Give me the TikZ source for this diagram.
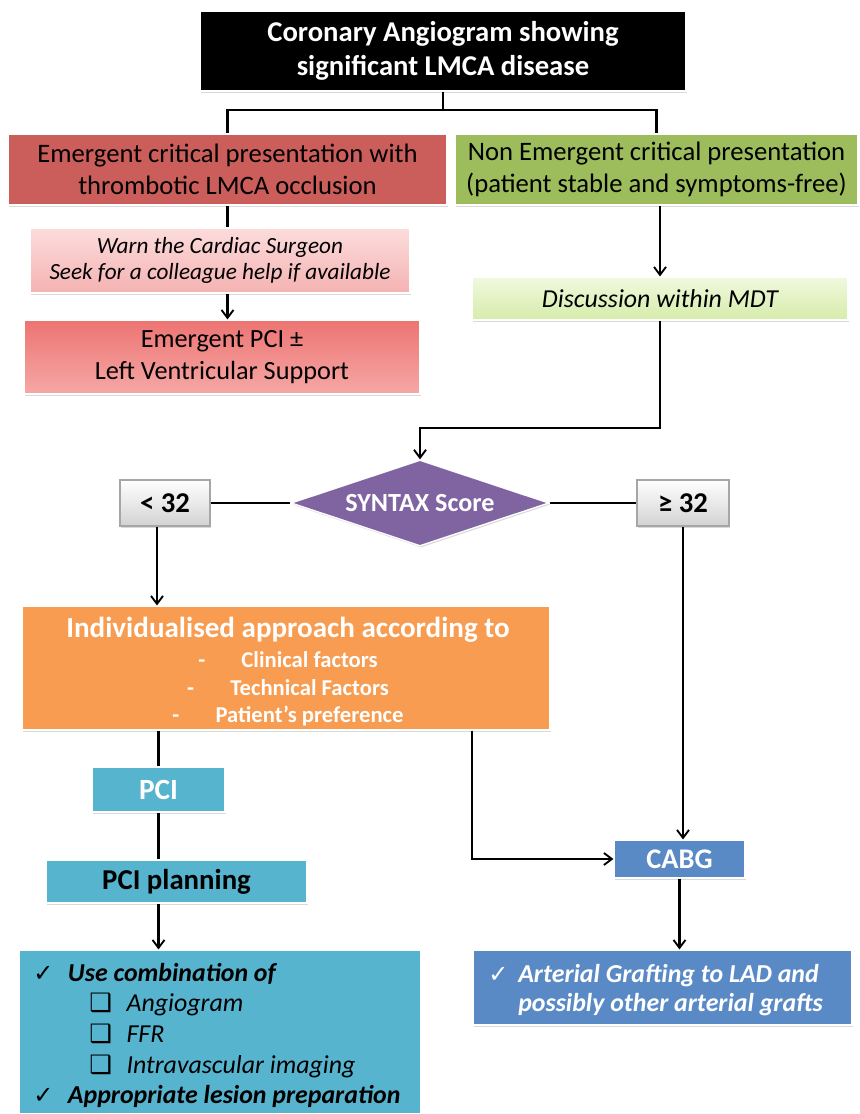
\documentclass[tikz,border=0pt]{standalone}
\usepackage{fontspec}
\setmainfont{Carlito}
\newfontfamily\dv{DejaVu Sans}
\usetikzlibrary{arrows.meta,shapes.geometric,shadows,calc}
\definecolor{cRed}{HTML}{CB5E5A}
\definecolor{cGreen}{HTML}{9DBD5C}
\definecolor{cPurple}{HTML}{8064A2}
\definecolor{cOrange}{HTML}{F79C50}
\definecolor{cCyan}{HTML}{56B4CF}
\definecolor{cBlue}{HTML}{5A8AC6}
\newcommand{\fs}[1]{\fontsize{#1}{1.2\dimexpr #1pt\relax}\selectfont}
\newcommand{\chk}{\makebox[26pt][l]{\dv\upshape\mdseries\fontsize{18}{18}\selectfont ✓}}
\newcommand{\sqb}{\makebox[70pt][l]{\hspace{42pt}\dv\upshape\fontsize{19}{19}\selectfont ❑}}
\tikzset{
  sz/.style 2 args={minimum width=#1*0.75pt, minimum height=#2*0.75pt, inner sep=0pt},
  box/.style={rectangle, draw=white, line width=0.8pt, align=center,
    drop shadow={opacity=0.3, shadow xshift=0.8pt, shadow yshift=-1.2pt}},
  conn/.style={line width=1.7pt, draw=black},
  arr/.style={conn, -{Straight Barb[length=6pt,width=9pt,line width=1.4pt]}},
}
\begin{document}
\begin{tikzpicture}[x=0.75pt,y=-0.75pt]
\useasboundingbox (0,0) rectangle (860,1114);
% nodes
\node[box, fill=black, text=white, sz={486}{80}, font=\fontsize{21.5}{25.5}\selectfont\bfseries] (title) at (443,51)
  {Coronary Angiogram showing\\significant LMCA disease};
\node[box, fill=cRed, sz={439}{71}, font=\fs{20}] (red1) at (227.5,169.5)
  {Emergent critical presentation with\\thrombotic LMCA occlusion};
\node[box, fill=cGreen, sz={403}{71}, font=\fs{20}] (green1) at (656.5,169.5)
  {Non Emergent critical presentation\\(patient stable and symptoms-free)};
\node[box, top color={rgb,255:red,252;green,220;blue,220}, bottom color={rgb,255:red,245;green,178;blue,178}, sz={380}{65}, font=\fontsize{17.4}{20}\selectfont\itshape] (pink) at (220,260.5)
  {Warn the Cardiac Surgeon\\Seek for a colleague help if available};
\node[box, top color={rgb,255:red,236;green,116;blue,114}, bottom color={rgb,255:red,246;green,168;blue,166}, sz={396}{74}, font=\fontsize{19.7}{24}\selectfont] (epci) at (222,357)
  {Emergent PCI ±\\Left Ventricular Support};
\node[box, top color={rgb,255:red,240;green,249;blue,222}, bottom color={rgb,255:red,214;green,236;blue,170}, sz={376}{43}, font=\fs{19.4}\itshape] (mdt) at (660,298.5)
  {Discussion within MDT};
\node[diamond, aspect=3, fill=cPurple, draw=white, line width=1pt, text=white, sz={258}{86}, font=\fs{19.6}\bfseries,
  drop shadow={opacity=0.3, shadow xshift=0.8pt, shadow yshift=-1.2pt}] (dia) at (420,503) {SYNTAX Score};
\node[box, draw=gray!70, top color=white, bottom color=gray!35, sz={90}{46}, font=\fs{21.5}\bfseries] (lt) at (165,503) {< 32};
\node[box, draw=gray!70, top color=white, bottom color=gray!35, sz={92}{46}, font=\fs{21.5}\bfseries] (ge) at (683,503) {≥ 32};
\node[box, fill=cOrange, sz={528}{124}] (orange) at (286,668) {};
\node[align=center, inner sep=0pt, text=white, font=\fontsize{17}{20.6}\selectfont\bfseries] (orangetext) at (288,672)
  {{\fontsize{21.8}{26}\selectfont Individualised approach according to}\\[1.9pt]
   -\hspace{1.6em}Clinical factors\\
   -\hspace{1.6em}Technical Factors\\
   -\hspace{1.6em}Patient’s preference};
\node[box, fill=cCyan, text=white, sz={133}{45}, font=\fs{22}\bfseries] (pci) at (158.5,789.5) {PCI};
\node[box, fill=cCyan, sz={261}{43}, font=\fs{21.6}\bfseries] (pcip) at (176.5,881.5) {PCI planning};
\node[box, fill=cBlue, text=white, sz={131}{38}, font=\fs{21.3}\bfseries] (cabg) at (679.5,859) {CABG};
\node[box, fill=cCyan, sz={402}{164}] (cyan) at (220,1032) {};
\node[anchor=north west, inner sep=0pt, align=left, font=\fontsize{19.4}{22.9}\selectfont\itshape] (cyantext) at (33,963) {%
  \chk{\bfseries Use combination of}\\
  \sqb Angiogram\\
  \sqb FFR\\
  \sqb Intravascular imaging\\
  \chk{\bfseries Appropriate lesion preparation}};
\node[box, fill=cBlue, sz={379}{75}] (blue) at (662.5,987.5) {};
\node[anchor=north west, inner sep=0pt, align=left, text=white, font=\fontsize{19.4}{22}\selectfont\bfseries\itshape] (bluetext) at (488,964) {%
  \makebox[22.5pt][l]{\dv\upshape\mdseries\fontsize{18}{18}\selectfont ✓}Arterial Grafting to LAD and\\
  \hspace{22.5pt}possibly other arterial grafts};
% coordinates
\coordinate (j1) at (443,110);
\coordinate (t1) at (420,428);
\coordinate (x472) at (472,0);
\coordinate (x157) at (157,0);
% connectors
\draw[conn] (title.south) -- (j1);
\draw[conn] (red1.north) |- (j1) -| (green1.north);
\draw[conn] (red1.south) -- (red1.south |- pink.north);
\draw[arr] (red1.south |- pink.south) -- (red1.south |- epci.north);
\draw[arr] (mdt.north |- green1.south) -- (mdt.north);
\draw[arr] (mdt.south) |- (t1) -- (dia.north);
\draw[conn] (lt.east) -- (dia.west);
\draw[conn] (dia.east) -- (ge.west);
\draw[arr] (lt.south -| x157) -- (orange.north -| x157);
\draw[arr] (ge.south) -- (ge.south |- cabg.north);
\draw[conn] (pci.north |- orange.south) -- (pci.north);
\draw[conn] (pci.south) -- (pci.south |- pcip.north);
\draw[arr] (pci.south |- pcip.south) -- (pci.south |- cyan.north);
\draw[arr] (orange.south -| x472) |- (cabg.west);
\draw[arr] (cabg.south) -- (cabg.south |- blue.north);
\end{tikzpicture}
\end{document}
